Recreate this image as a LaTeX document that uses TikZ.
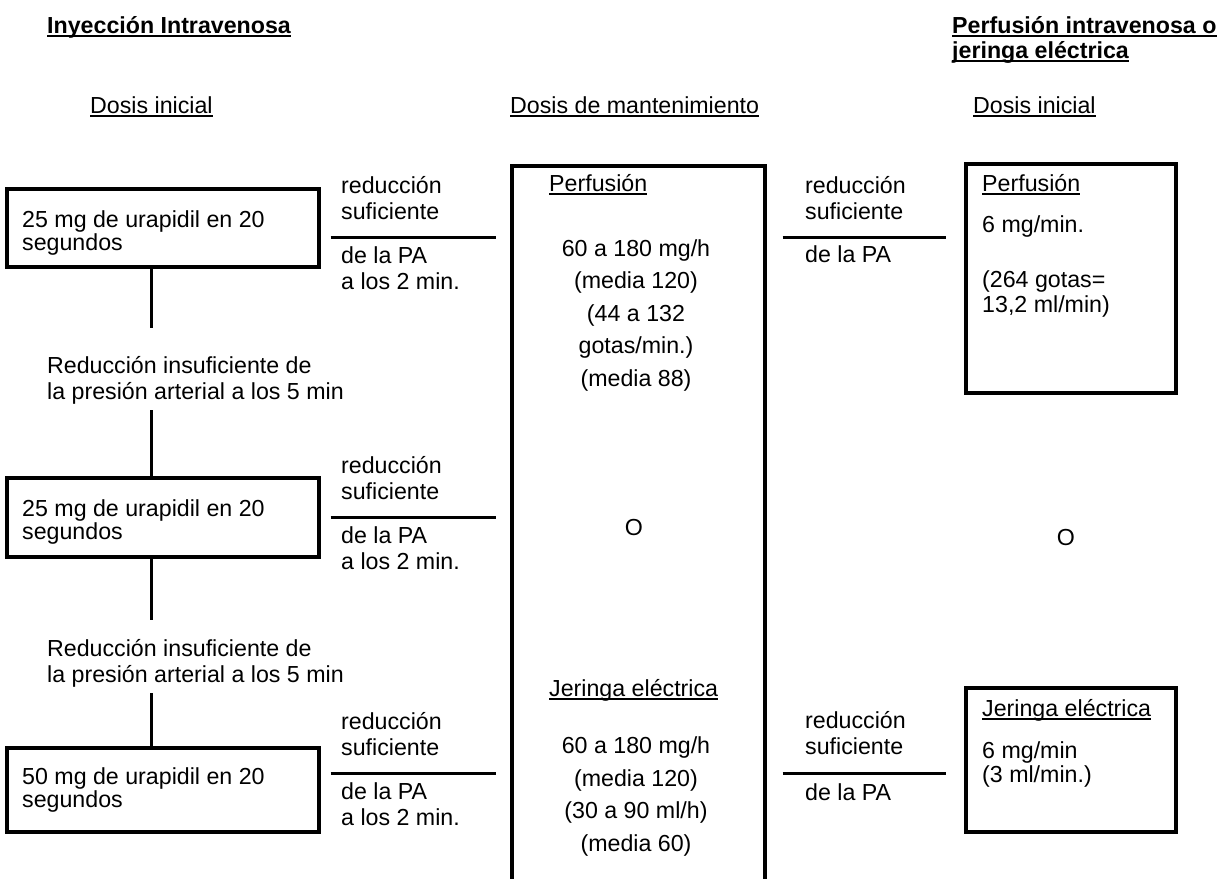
\documentclass[tikz,border=0pt]{standalone}
\usepackage{fontspec}
\setmainfont{Liberation Sans}
\usetikzlibrary{calc}
\tikzset{
  txt/.style={inner sep=0pt, anchor=base west, align=left, font=\fontsize{23.2}{26}\selectfont},
  txtcaja/.style={txt, font=\fontsize{23.2}{23.5}\selectfont},
  txtc/.style={inner sep=0pt, anchor=base, align=center, font=\fontsize{23.2}{32.5}\selectfont},
  caja/.style={draw, line width=3.5pt, inner sep=0pt, anchor=north west},
  linea/.style={line width=3pt},
}
% texto subrayado: nombre, x, y, texto
\newcommand{\subr}[4]{\node[txt] (#1) at (#2,#3) {#4}; \draw[line width=1.6pt] ($(#1.base west)+(0,3)$) -- ($(#1.base east)+(0,3)$);}
\newcommand{\titulo}[4]{\node[txt, font=\fontsize{23.2}{26}\selectfont\bfseries] (#1) at (#2,#3) {#4}; \draw[line width=2.4pt] ($(#1.base west)+(0,3)$) -- ($(#1.base east)+(0,3)$);}
% etiqueta de una reduccion: nombre, x, y de la linea, texto de abajo, base de su ultima linea
\newcommand{\reduc}[5]{\node[txt] (#1a) at (#2,#3-18) {reducción\\suficiente}; \node[txt] (#1b) at (#2,#3+#5) {#4};}

\begin{document}
\begin{tikzpicture}[x=1pt,y=-1pt]
    \useasboundingbox (0,0) rectangle (1220,878);
    % titulos
    \titulo{tit1}{47}{33}{Inyección Intravenosa}
    \titulo{tit2}{952}{33}{Perfusión intravenosa o}
    \titulo{tit3}{952}{58}{jeringa eléctrica}
    \subr{ini1}{90}{113}{Dosis inicial}
    \subr{mant0}{510}{113}{Dosis de mantenimiento}
    \subr{ini2}{973}{113}{Dosis inicial}
    % bolos
    \node[caja, minimum width=312pt, minimum height=78pt] (b1) at (5,187) {};
    \node[txtcaja] (t1) at ($(b1.north west)+(17,63.5)$) {25 mg de urapidil en 20\\segundos};
    \node[caja, minimum width=312pt, minimum height=79pt] (b2) at (5,476) {};
    \node[txtcaja] (t2) at ($(b2.north west)+(17,63.5)$) {25 mg de urapidil en 20\\segundos};
    \node[caja, minimum width=312pt, minimum height=84pt] (b3) at (5,746) {};
    \node[txtcaja] (t3) at ($(b3.north west)+(17,61.5)$) {50 mg de urapidil en 20\\segundos};
    \node[txt] (i1) at (47,399) {Reducción insuficiente de\\la presión arterial a los 5 min};
    \node[txt] (i2) at (47,682) {Reducción insuficiente de\\la presión arterial a los 5 min};
    \coordinate (eje) at (151,0);
    \coordinate (v1) at (151,328);
    \coordinate (v2) at (151,410);
    \coordinate (v3) at (151,620);
    \coordinate (v4) at (151,693);
    \draw[linea] (b1.south -| eje) -- (v1);
    \draw[linea] (v2) -- (b2.north -| eje);
    \draw[linea] (b2.south -| eje) -- (v3);
    \draw[linea] (v4) -- (b3.north -| eje);
    % mantenimiento
    \node[caja, minimum width=253pt, minimum height=740pt] (mant) at (510,164) {};
    \subr{perf}{549}{191}{Perfusión}
    \node[txtc] (perfv) at (636,386) {60 a 180 mg/h\\(media 120)\\(44 a 132\\gotas/min.)\\(media 88)};
    \node[txtc] (o1) at (634,535) {O};
    \subr{jer}{549}{696}{Jeringa eléctrica}
    \node[txtc] (jerv) at (636,851) {60 a 180 mg/h\\(media 120)\\(30 a 90 ml/h)\\(media 60)};
    % perfusion / jeringa inicial
    \node[caja, minimum width=210pt, minimum height=229pt] (pi) at (964,162) {};
    \subr{pi1}{982}{191}{Perfusión}
    \node[txt] (pi2) at (982,232) {6 mg/min.};
    \node[txt] (pi3) at (982,312) {(264 gotas=\\[-1pt]13,2 ml/min)};
    \node[txtc] (o2) at (1066,545) {O};
    \node[caja, minimum width=210pt, minimum height=144pt] (ji) at (964,686) {};
    \subr{ji1}{982}{716}{Jeringa eléctrica}
    \node[txt] (ji2) at (982,782) {6 mg/min\\[-2pt](3 ml/min.)};
    % reducciones
    \coordinate (y1) at (0,237);
    \coordinate (y2) at (0,517);
    \coordinate (y3) at (0,773);
    \draw[linea] ($(b1.east |- y1)+(10,0)$) -- ($(mant.west |- y1)+(-14,0)$);
    \draw[linea] ($(b2.east |- y2)+(10,0)$) -- ($(mant.west |- y2)+(-14,0)$);
    \draw[linea] ($(b3.east |- y3)+(10,0)$) -- ($(mant.west |- y3)+(-14,0)$);
    \draw[linea] ($(mant.east |- y1)+(16,0)$) -- ($(pi.west |- y1)+(-18,0)$);
    \draw[linea] ($(mant.east |- y3)+(16,0)$) -- ($(ji.west |- y3)+(-18,0)$);
    \reduc{r1}{341}{237}{de la PA\\a los 2 min.}{52}
    \reduc{r2}{341}{517}{de la PA\\a los 2 min.}{52}
    \reduc{r3}{341}{773}{de la PA\\a los 2 min.}{52}
    \reduc{r4}{805}{237}{de la PA}{25}
    \reduc{r5}{805}{772}{de la PA}{28}
\end{tikzpicture}
\end{document}
